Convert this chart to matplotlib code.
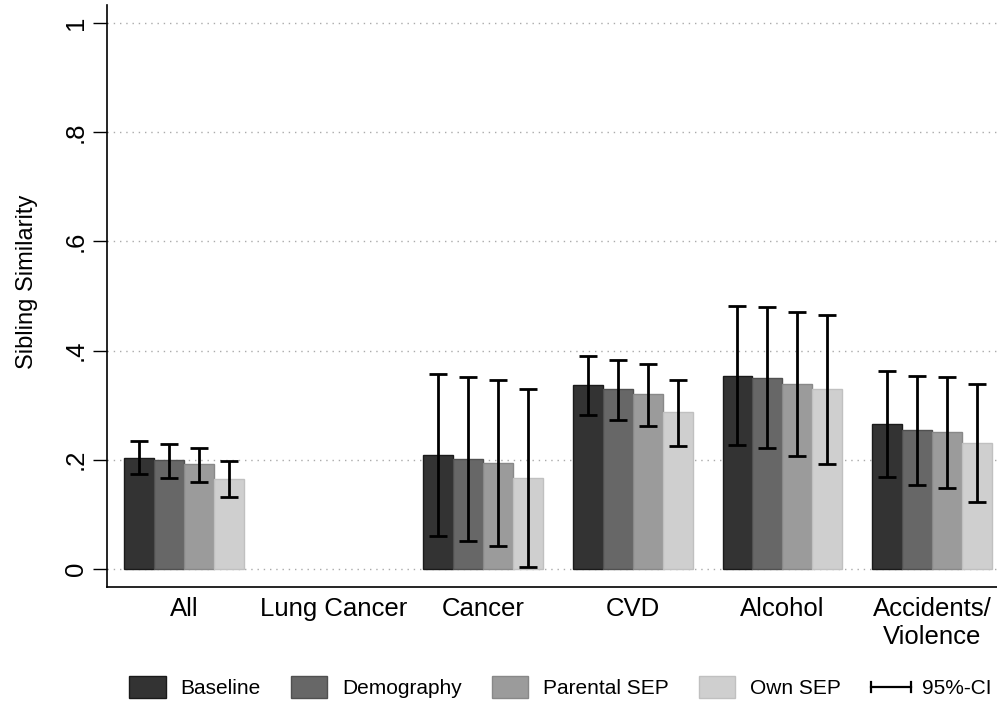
import numpy as np
import matplotlib
matplotlib.use('Agg')
import matplotlib.pyplot as plt
from matplotlib.patches import Patch
from matplotlib.lines import Line2D
from matplotlib.legend_handler import HandlerBase

plt.rcParams['font.family'] = ['Liberation Sans', 'DejaVu Sans']

categories = ['All', 'Lung Cancer', 'Cancer', 'CVD', 'Alcohol', 'Accidents/\nViolence']
models = ['Baseline', 'Demography', 'Parental SEP', 'Own SEP']

# point estimates (Lung Cancer not estimated)
est = {
    'Baseline':     [0.204, np.nan, 0.209, 0.337, 0.354, 0.266],
    'Demography':   [0.199, np.nan, 0.201, 0.329, 0.349, 0.254],
    'Parental SEP': [0.192, np.nan, 0.194, 0.320, 0.338, 0.250],
    'Own SEP':      [0.164, np.nan, 0.167, 0.287, 0.329, 0.231],
}
ci_lo = {
    'Baseline':     [0.174, np.nan, 0.061, 0.282, 0.227, 0.168],
    'Demography':   [0.167, np.nan, 0.051, 0.273, 0.221, 0.153],
    'Parental SEP': [0.160, np.nan, 0.042, 0.262, 0.207, 0.148],
    'Own SEP':      [0.132, np.nan, 0.004, 0.225, 0.192, 0.123],
}
ci_hi = {
    'Baseline':     [0.234, np.nan, 0.357, 0.390, 0.482, 0.363],
    'Demography':   [0.229, np.nan, 0.351, 0.383, 0.479, 0.354],
    'Parental SEP': [0.222, np.nan, 0.346, 0.375, 0.470, 0.351],
    'Own SEP':      [0.197, np.nan, 0.329, 0.347, 0.466, 0.339],
}
fills = ['#333333', '#676767', '#9b9b9b', '#cfcfcf']
edges = ['#1a1a1a', '#505050', '#888888', '#c0c0c0']


class CIHandler(HandlerBase):
    # horizontal line with end caps, like |---|
    def create_artists(self, legend, orig, xd, yd, width, height, fontsize, trans):
        y = height / 2 - yd
        x0, x1 = -xd, width - xd + 3
        h = 0.22 * height
        kw = dict(color='black', linewidth=1.6, transform=trans)
        return [Line2D([x0, x1], [y, y], **kw),
                Line2D([x0, x0], [y - h, y + h], **kw),
                Line2D([x1, x1], [y - h, y + h], **kw)]


fig = plt.figure(figsize=(9.97, 7.04), dpi=100)
ax = fig.add_axes([107 / 997, 117 / 704, 890 / 997, 582 / 704])

x = np.arange(len(categories))
w = 0.2
for i, m in enumerate(models):
    xs = x + (i - 1.5) * w
    e = np.array(est[m]); lo = np.array(ci_lo[m]); hi = np.array(ci_hi[m])
    ax.bar(xs, e, width=w, color=fills[i], edgecolor=edges[i], linewidth=1.0, zorder=2)
    ax.errorbar(xs, e, yerr=[e - lo, hi - e], fmt='none', ecolor='black',
                elinewidth=2.0, capsize=6.5, capthick=2.0, zorder=3)

ax.set_xlim(-0.515, 5.435)
ax.set_ylim(-0.033, 1.033)
ax.set_yticks([0, 0.2, 0.4, 0.6, 0.8, 1.0])
ax.set_yticklabels(['0', '.2', '.4', '.6', '.8', '1'], rotation=90, va='center')
ax.set_xticks(x)
ax.set_xticklabels(categories)
ax.tick_params(axis='x', length=0, pad=7, labelsize=18.5)
ax.tick_params(axis='y', length=10, width=1, pad=4, labelsize=18.5)
ax.yaxis.grid(True, linestyle=(0, (1, 3.5)), color='#aaaaaa', linewidth=1.0, zorder=0)
ax.set_axisbelow(True)
for s in ['top', 'right']:
    ax.spines[s].set_visible(False)
for s in ['left', 'bottom']:
    ax.spines[s].set_linewidth(1.2)
ax.set_ylabel('Sibling Similarity', fontsize=17)
ax.yaxis.set_label_coords(-0.077, 0.524)

handles = [Patch(facecolor=fills[i], edgecolor=edges[i]) for i in range(4)]
ci_handle = Line2D([0], [0], color='black')
handles.append(ci_handle)
fig.legend(handles, models + ['95%-CI'], loc='lower center', ncol=5,
           bbox_to_anchor=(0.562, -0.004), frameon=False, fontsize=15,
           handlelength=1.75, handleheight=1.3, handletextpad=0.7,
           columnspacing=1.45, borderaxespad=0.0,
           handler_map={ci_handle: CIHandler()})

fig.savefig('out.png', dpi=100)
